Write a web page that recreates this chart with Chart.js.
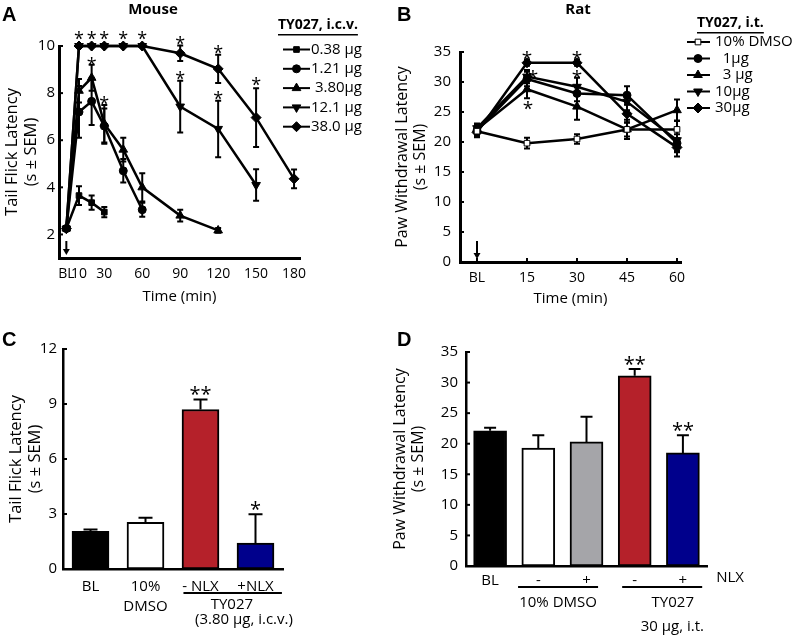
<!DOCTYPE html>
<html>
<head>
<meta charset="utf-8">
<script src="https://cdn.jsdelivr.net/npm/chart.js@4.4.1/dist/chart.umd.min.js"></script>
<style>
body { margin: 0; background: #fff; }
#fig { position: relative; width: 797px; height: 635px; overflow: hidden; font-family: 'Open Sans', sans-serif; color: #000; }
canvas { position: absolute; }
.letter { position: absolute; font: bold 20px 'Liberation Sans', Arial, sans-serif; line-height: 20px; }
.title { position: absolute; font-weight: bold; font-size: 15px; line-height: 15px; text-align: center; width: 80px; }
</style>
</head>
<body>
<div id="fig">
  <canvas id="mouseChart" width="400" height="310" style="left:0px;top:0px"></canvas>
  <canvas id="ratChart" width="412" height="310" style="left:385px;top:0px"></canvas>
  <canvas id="tailChart" width="400" height="335" style="left:0px;top:300px"></canvas>
  <canvas id="pawChart" width="412" height="335" style="left:385px;top:300px"></canvas>
  <div class="letter" style="left:2px;top:4px">A</div>
  <div class="letter" style="left:397px;top:4px">B</div>
  <div class="letter" style="left:2px;top:329px">C</div>
  <div class="letter" style="left:397px;top:329px">D</div>
  <div class="title" style="left:113px;top:1px">Mouse</div>
  <div class="title" style="left:538px;top:1px">Rat</div>
</div>
<script>
// ---- panel A: mouse tail flick, TY027 i.c.v. ----
var mouseTimes = [0, 10, 20, 30, 45, 60, 90, 120, 150, 180];
var mouseTickValues = [0, 10, 30, 60, 90, 120, 150, 180];
var mouseYTicks = [2, 4, 6, 8, 10];
var mouseLabels = ['0.38 μg', '1.21 μg', ' 3.80μg', '12.1 μg', '38.0 μg'];
var mouse038 = [2.25, 3.65, 3.35, 2.95];
var mouse121 = [2.25, 7.2, 7.65, 6.6, 4.7, 3.05];
var mouse380 = [2.25, 8.1, 8.65, 6.7, 5.6, 4.0, 2.8, 2.17];
var mouse12_1 = [2.25, 10, 10, 10, 10, 10, 7.43, 6.48, 4.1];
var mouse38_0 = [2.25, 10, 10, 10, 10, 10, 9.69, 9.03, 6.96, 4.36];
var mouse038Sem = [0.1, 0.4, 0.3, 0.22];
var mouse121Sem = [0.1, 1.1, 1.0, 0.75, 0.5, 0.3];
var mouse380Sem = [0.1, 0.5, 0.55, 0.8, 0.5, 0.6, 0.25, 0.1];
var mouse12_1Sem = [0.1, 0, 0, 0, 0, 0, 1.1, 1.2, 0.67];
var mouse38_0Sem = [0.1, 0, 0, 0, 0, 0, 0.33, 0.6, 1.25, 0.4];
// asterisks: [time, latency]
var mouseStars = [[10, 10.45], [20, 10.45], [30, 10.45], [45, 10.45], [60, 10.45],
    [20, 9.35], [30, 7.7], [90, 10.25], [90, 8.75], [120, 9.85], [120, 7.9], [150, 8.5]];

// ---- panel B: rat paw withdrawal, TY027 i.t. ----
var ratTimes = [0, 15, 30, 45, 60];
var ratTickValues = [0, 15, 30, 45, 60];
var ratLabels = ['10% DMSO', '  1μg', '  3 μg', '10μg', '30μg'];
var ratDmso = [21.8, 19.8, 20.5, 22.1, 22.1];
var rat1 = [21.9, 30.5, 28.1, 27.8, 19.8];
var rat3 = [22.1, 28.8, 25.9, 22.1, 25.3];
var rat10 = [22.3, 30.9, 29.2, 26.7, 20.3];
var rat30 = [21.6, 33.2, 33.2, 24.7, 19.1];
var ratDmsoSem = [0.8, 0.9, 0.8, 1.2, 1.5];
var rat1Sem = [0.8, 1.2, 1.3, 1.5, 1.5];
var rat3Sem = [0.8, 1.5, 2.2, 1.6, 1.8];
var rat10Sem = [0.8, 1.1, 1.5, 1.4, 1.8];
var rat30Sem = [0.8, 0.5, 0.5, 1.5, 1.5];
var ratStars = [[15, 34.5], [16.8, 31.4], [15.3, 26.2], [30, 34.5], [30, 31.4]];

// ---- panel C: tail flick bars ----
var tailCats = ['BL', ['10%', 'DMSO'], '- NLX', '+NLX'];
var tailMeans = [2.05, 2.55, 8.7, 1.42];
var tailSem = [0.1, 0.25, 0.55, 1.56];
var tailStars = ['', '', '**', '*'];
var tailColors = ['#000000', '#ffffff', '#b5212a', '#00008c'];

// ---- panel D: paw withdrawal bars ----
var pawCats = ['BL', '-', '+', '-', '+'];
var pawMeans = [22.1, 19.3, 20.3, 31.1, 18.5];
var pawSem = [0.5, 2.1, 4.1, 1.1, 2.9];
var pawStars = ['', '', '', '**', '**'];
var pawColors = ['#000000', '#ffffff', '#a5a5a9', '#b5212a', '#00008c'];

Chart.defaults.font.family = '"Open Sans", sans-serif';
Chart.defaults.color = '#000';

function font(size, weight) {
    return { family: '"Open Sans", sans-serif', size: size, weight: weight || 'normal', lineHeight: 1.15 };
}

function lineDataset(label, times, values, sem, shape, rotation, radius, fill) {
    var pts = [];
    for (var i = 0; i < values.length; i++) {
        pts.push({ x: times[i], y: values[i] });
    }
    return {
        label: label,
        data: pts,
        sem: sem,
        borderColor: '#000',
        backgroundColor: fill,
        borderWidth: 2.5,
        pointStyle: shape,
        pointRotation: rotation,
        pointRadius: radius,
        pointBorderColor: '#000',
        pointBackgroundColor: fill,
        pointBorderWidth: 1,
        tension: 0,
        clip: false
    };
}

function drawErrorBars(chart, opts) {
    var ctx = chart.ctx;
    var yScale = chart.scales.y;
    var cap = opts.cap || 3;
    ctx.save();
    ctx.strokeStyle = '#000';
    ctx.lineWidth = opts.width || 2;
    chart.data.datasets.forEach(function (ds, di) {
        if (!ds.sem) return;
        var meta = chart.getDatasetMeta(di);
        meta.data.forEach(function (el, i) {
            var sem = ds.sem[i];
            if (!sem) return;
            var v = typeof ds.data[i] === 'object' ? ds.data[i].y : ds.data[i];
            var top = yScale.getPixelForValue(v + sem);
            var bottom = opts.upOnly ? el.y : yScale.getPixelForValue(v - sem);
            ctx.beginPath();
            ctx.moveTo(el.x, bottom);
            ctx.lineTo(el.x, top);
            ctx.moveTo(el.x - cap, top);
            ctx.lineTo(el.x + cap, top);
            if (!opts.upOnly) {
                ctx.moveTo(el.x - cap, bottom);
                ctx.lineTo(el.x + cap, bottom);
            }
            ctx.stroke();
        });
    });
    ctx.restore();
}

var errorBarPlugin = {
    id: 'errorBars',
    beforeDatasetsDraw: function (chart, args, opts) {
        if (!opts.onTop) drawErrorBars(chart, opts);
    },
    afterDatasetsDraw: function (chart, args, opts) {
        if (opts.onTop) drawErrorBars(chart, opts);
    }
};

var starPlugin = {
    id: 'stars',
    afterDatasetsDraw: function (chart, args, opts) {
        var ctx = chart.ctx;
        var size = opts.size || 17;
        ctx.save();
        ctx.fillStyle = '#000';
        ctx.font = size + 'px "Open Sans"';
        ctx.textAlign = 'center';
        ctx.textBaseline = 'alphabetic';
        (opts.items || []).forEach(function (s) {
            if (!s[2]) return;
            var x = chart.scales.x.getPixelForValue(s[0]);
            var y = chart.scales.y.getPixelForValue(s[1]) - (opts.gap || 0);
            ctx.fillText(s[2], x, y + size * 0.55);
        });
        ctx.restore();
    }
};

var innerTickPlugin = {
    id: 'innerTicks',
    afterDraw: function (chart, args, opts) {
        var ctx = chart.ctx;
        var area = chart.chartArea;
        var len = opts.length || 4;
        var xs = chart.scales.x;
        var ys = chart.scales.y;
        ctx.save();
        ctx.strokeStyle = '#000';
        ctx.lineWidth = 2;
        ys.ticks.forEach(function (t, i) {
            var y = ys.getPixelForTick(i);
            ctx.beginPath();
            ctx.moveTo(area.left, y);
            ctx.lineTo(area.left + len, y);
            ctx.stroke();
        });
        if (opts.x) {
            xs.ticks.forEach(function (t, i) {
                var x = xs.getPixelForTick(i);
                ctx.beginPath();
                ctx.moveTo(x, area.bottom);
                ctx.lineTo(x, area.bottom - len);
                ctx.stroke();
            });
        }
        ctx.restore();
    }
};

// little arrow at baseline marking the injection
var arrowPlugin = {
    id: 'injectArrow',
    afterDatasetsDraw: function (chart, args, opts) {
        var ctx = chart.ctx;
        var x = chart.scales.x.getPixelForValue(opts.at);
        var b = chart.chartArea.bottom;
        ctx.save();
        ctx.strokeStyle = '#000';
        ctx.fillStyle = '#000';
        ctx.lineWidth = 2;
        ctx.beginPath();
        ctx.moveTo(x, b - opts.length);
        ctx.lineTo(x, b - 8);
        ctx.stroke();
        ctx.beginPath();
        ctx.moveTo(x - 3.5, b - 9);
        ctx.lineTo(x + 3.5, b - 9);
        ctx.lineTo(x, b - 3);
        ctx.closePath();
        ctx.fill();
        ctx.restore();
    }
};

var doseLegendPlugin = {
    id: 'doseLegend',
    afterDraw: function (chart, args, opts) {
        var ctx = chart.ctx;
        ctx.save();
        ctx.fillStyle = '#000';
        ctx.textAlign = 'left';
        ctx.textBaseline = 'middle';
        ctx.font = 'bold 14px "Open Sans"';
        ctx.fillText(opts.title, opts.titleX, opts.titleY);
        var w = ctx.measureText(opts.title).width;
        ctx.fillRect(opts.titleX, opts.titleY + 9, w, 1.5);
        ctx.font = '15px "Open Sans"';
        chart.data.datasets.forEach(function (ds, i) {
            var y = opts.y + i * opts.step;
            ctx.strokeStyle = '#000';
            ctx.lineWidth = 2;
            ctx.beginPath();
            ctx.moveTo(opts.lineX1, y);
            ctx.lineTo(opts.lineX2, y);
            ctx.stroke();
            ctx.fillStyle = ds.pointBackgroundColor;
            ctx.lineWidth = 1;
            Chart.helpers.drawPoint(ctx, {
                pointStyle: ds.pointStyle,
                rotation: ds.pointRotation,
                radius: ds.pointRadius,
                borderWidth: 1
            }, opts.markX, y);
            ctx.fillStyle = '#000';
            ctx.fillText(ds.label, opts.textX, y);
        });
        ctx.restore();
    }
};

var groupLabelPlugin = {
    id: 'groupLabels',
    afterDraw: function (chart, args, opts) {
        var ctx = chart.ctx;
        var xs = chart.scales.x;
        ctx.save();
        ctx.strokeStyle = '#000';
        ctx.fillStyle = '#000';
        ctx.lineWidth = 2;
        (opts.lines || []).forEach(function (l) {
            ctx.beginPath();
            ctx.moveTo(xs.getPixelForValue(l[0]), l[2]);
            ctx.lineTo(xs.getPixelForValue(l[1]), l[2]);
            ctx.stroke();
        });
        ctx.font = '15px "Open Sans"';
        ctx.textAlign = 'center';
        ctx.textBaseline = 'middle';
        (opts.texts || []).forEach(function (t) {
            ctx.fillText(t[0], xs.getPixelForValue(t[1]), t[2]);
        });
        ctx.restore();
    }
};

function tickSetter(values) {
    return function (scale) {
        scale.ticks = values.map(function (v) { return { value: v }; });
    };
}

function blLabel(v) {
    return v === 0 ? 'BL' : v;
}

// ---------- A ----------
new Chart(document.getElementById('mouseChart'), {
    type: 'line',
    data: {
        datasets: [
            lineDataset(mouseLabels[0], mouseTimes, mouse038, mouse038Sem, 'rect', 0, 4, '#000'),
            lineDataset(mouseLabels[1], mouseTimes, mouse121, mouse121Sem, 'circle', 0, 4, '#000'),
            lineDataset(mouseLabels[2], mouseTimes, mouse380, mouse380Sem, 'triangle', 0, 5, '#000'),
            lineDataset(mouseLabels[3], mouseTimes, mouse12_1, mouse12_1Sem, 'triangle', 180, 5, '#000'),
            lineDataset(mouseLabels[4], mouseTimes, mouse38_0, mouse38_0Sem, 'rectRot', 0, 5, '#000')
        ]
    },
    options: {
        responsive: false,
        animation: false,
        devicePixelRatio: 1,
        layout: { padding: { left: 0, top: 46, right: 100, bottom: 0 } },
        plugins: {
            legend: { display: false },
            tooltip: { enabled: false },
            errorBars: { cap: 3, width: 2 },
            stars: { items: mouseStars.map(function (s) { return [s[0], s[1], '*']; }), size: 18 },
            injectArrow: { at: 0, length: 17 },
            innerTicks: { x: false, length: 4 },
            doseLegend: { title: 'TY027, i.c.v.', titleX: 278, titleY: 25, y: 49.5, step: 19.3, lineX1: 283, lineX2: 310, markX: 296.5, textX: 311 }
        },
        scales: {
            x: {
                type: 'linear',
                min: -5.8,
                max: 184.7,
                afterBuildTicks: tickSetter(mouseTickValues),
                afterFit: function (s) { s.height = 52; },
                grid: { display: false, drawTicks: false },
                border: { display: true, color: '#000', width: 3 },
                ticks: { autoSkip: false, maxRotation: 0, padding: 8, color: '#000', font: font(14), callback: blLabel },
                title: { display: true, text: 'Time (min)', color: '#000', font: font(15), padding: { top: 0, bottom: 5 } }
            },
            y: {
                min: 1,
                max: 10,
                afterBuildTicks: tickSetter(mouseYTicks),
                afterFit: function (s) { s.width = 59; },
                grid: { display: false, drawTicks: false },
                border: { display: true, color: '#000', width: 3 },
                ticks: { padding: 4, color: '#000', font: font(15) },
                title: { display: true, text: ['Tail Flick Latency', '(s ± SEM)'], color: '#000', font: font(16.5), padding: { top: 3, bottom: 0 } }
            }
        }
    },
    plugins: [errorBarPlugin, starPlugin, arrowPlugin, innerTickPlugin, doseLegendPlugin]
});

// ---------- B ----------
new Chart(document.getElementById('ratChart'), {
    type: 'line',
    data: {
        datasets: [
            lineDataset(ratLabels[0], ratTimes, ratDmso, ratDmsoSem, 'rect', 0, 4, '#fff'),
            lineDataset(ratLabels[1], ratTimes, rat1, rat1Sem, 'circle', 0, 4, '#000'),
            lineDataset(ratLabels[2], ratTimes, rat3, rat3Sem, 'triangle', 0, 5, '#000'),
            lineDataset(ratLabels[3], ratTimes, rat10, rat10Sem, 'triangle', 180, 5, '#000'),
            lineDataset(ratLabels[4], ratTimes, rat30, rat30Sem, 'rectRot', 0, 5, '#000')
        ]
    },
    options: {
        responsive: false,
        animation: false,
        devicePixelRatio: 1,
        layout: { padding: { left: 0, top: 52, right: 116, bottom: 0 } },
        plugins: {
            legend: { display: false },
            tooltip: { enabled: false },
            errorBars: { cap: 3, width: 2 },
            stars: { items: ratStars.map(function (s) { return [s[0], s[1], '*']; }), size: 19 },
            injectArrow: { at: 0, length: 21 },
            innerTicks: { x: true, length: 4 },
            doseLegend: { title: 'TY027, i.t.', titleX: 312, titleY: 23, y: 42, step: 16.5, lineX1: 302, lineX2: 325, markX: 313, textX: 330 }
        },
        scales: {
            x: {
                type: 'linear',
                min: -5.1,
                max: 61.2,
                afterBuildTicks: tickSetter(ratTickValues),
                afterFit: function (s) { s.height = 48; },
                grid: { display: false, drawTicks: false },
                border: { display: true, color: '#000', width: 3 },
                ticks: { autoSkip: false, maxRotation: 0, padding: 8, color: '#000', font: font(14), callback: blLabel },
                title: { display: true, text: 'Time (min)', color: '#000', font: font(15), padding: { top: 0, bottom: 3 } }
            },
            y: {
                min: 0,
                max: 35,
                ticks: { stepSize: 5, padding: 9, color: '#000', font: font(15) },
                afterFit: function (s) { s.width = 75; },
                grid: { display: false, drawTicks: false },
                border: { display: true, color: '#000', width: 3 },
                title: { display: true, text: ['Paw Withdrawal Latency', '(s ± SEM)'], color: '#000', font: font(16), padding: { top: 8, bottom: 0 } }
            }
        }
    },
    plugins: [errorBarPlugin, starPlugin, arrowPlugin, innerTickPlugin, doseLegendPlugin]
});

// ---------- C ----------
new Chart(document.getElementById('tailChart'), {
    type: 'bar',
    data: {
        labels: tailCats,
        datasets: [{
            data: tailMeans,
            sem: tailSem,
            backgroundColor: tailColors,
            borderColor: '#000',
            borderWidth: 2,
            borderSkipped: false,
            barThickness: 37
        }]
    },
    options: {
        responsive: false,
        animation: false,
        devicePixelRatio: 1,
        layout: { padding: { left: 0, top: 49, right: 117, bottom: 0 } },
        plugins: {
            legend: { display: false },
            tooltip: { enabled: false },
            errorBars: { upOnly: true, onTop: true, cap: 7, width: 2 },
            stars: { items: tailMeans.map(function (m, i) { return [i, m + tailSem[i], tailStars[i]]; }), size: 20, gap: 9 },
            innerTicks: { x: false, length: 4 },
            groupLabels: {
                lines: [[1.69, 3.48, 293]],
                texts: [['TY027', 2.57, 305], ['(3.80 μg, i.c.v.)', 2.79, 320]]
            }
        },
        scales: {
            x: {
                afterFit: function (s) { s.height = 66; },
                grid: { display: false, drawTicks: false },
                border: { display: true, color: '#000', width: 2.5 },
                ticks: { autoSkip: false, maxRotation: 0, padding: 8, color: '#000', font: { family: '"Open Sans", sans-serif', size: 15, lineHeight: 1.33 } }
            },
            y: {
                min: 0,
                max: 12,
                ticks: { stepSize: 3, padding: 6, color: '#000', font: font(15) },
                afterFit: function (s) { s.width = 63; },
                grid: { display: false, drawTicks: false },
                border: { display: true, color: '#000', width: 2.5 },
                title: { display: true, text: ['Tail Flick Latency', '(s ± SEM)'], color: '#000', font: font(16.5), padding: { top: 7, bottom: 0 } }
            }
        }
    },
    plugins: [errorBarPlugin, starPlugin, innerTickPlugin, groupLabelPlugin]
});

// ---------- D ----------
new Chart(document.getElementById('pawChart'), {
    type: 'bar',
    data: {
        labels: pawCats,
        datasets: [{
            data: pawMeans,
            sem: pawSem,
            backgroundColor: pawColors,
            borderColor: '#000',
            borderWidth: 2,
            borderSkipped: false,
            barThickness: 33
        }]
    },
    options: {
        responsive: false,
        animation: false,
        devicePixelRatio: 1,
        layout: { padding: { left: 0, top: 52, right: 90, bottom: 0 } },
        plugins: {
            legend: { display: false },
            tooltip: { enabled: false },
            errorBars: { upOnly: true, onTop: true, cap: 6, width: 2 },
            stars: { items: pawMeans.map(function (m, i) { return [i, m + pawSem[i], pawStars[i]]; }), size: 20, gap: 9 },
            innerTicks: { x: false, length: 4 },
            groupLabels: {
                lines: [[0.58, 2.24, 287], [2.74, 4.4, 287]],
                texts: [['NLX', 4.98, 278], ['10% DMSO', 1.41, 303], ['TY027', 3.79, 303], ['30 μg, i.t.', 3.78, 327]]
            }
        },
        scales: {
            x: {
                afterFit: function (s) { s.height = 69; },
                grid: { display: false, drawTicks: false },
                border: { display: true, color: '#000', width: 2.5 },
                ticks: { autoSkip: false, maxRotation: 0, padding: 6, color: '#000', font: font(15) }
            },
            y: {
                min: 0,
                max: 35,
                ticks: { stepSize: 5, padding: 8, color: '#000', font: font(15) },
                afterFit: function (s) { s.width = 81; },
                grid: { display: false, drawTicks: false },
                border: { display: true, color: '#000', width: 2.5 },
                title: { display: true, text: ['Paw Withdrawal Latency', '(s ± SEM)'], color: '#000', font: font(16), padding: { top: 6, bottom: 0 } }
            }
        }
    },
    plugins: [errorBarPlugin, starPlugin, innerTickPlugin, groupLabelPlugin]
});
</script>
</body>
</html>
